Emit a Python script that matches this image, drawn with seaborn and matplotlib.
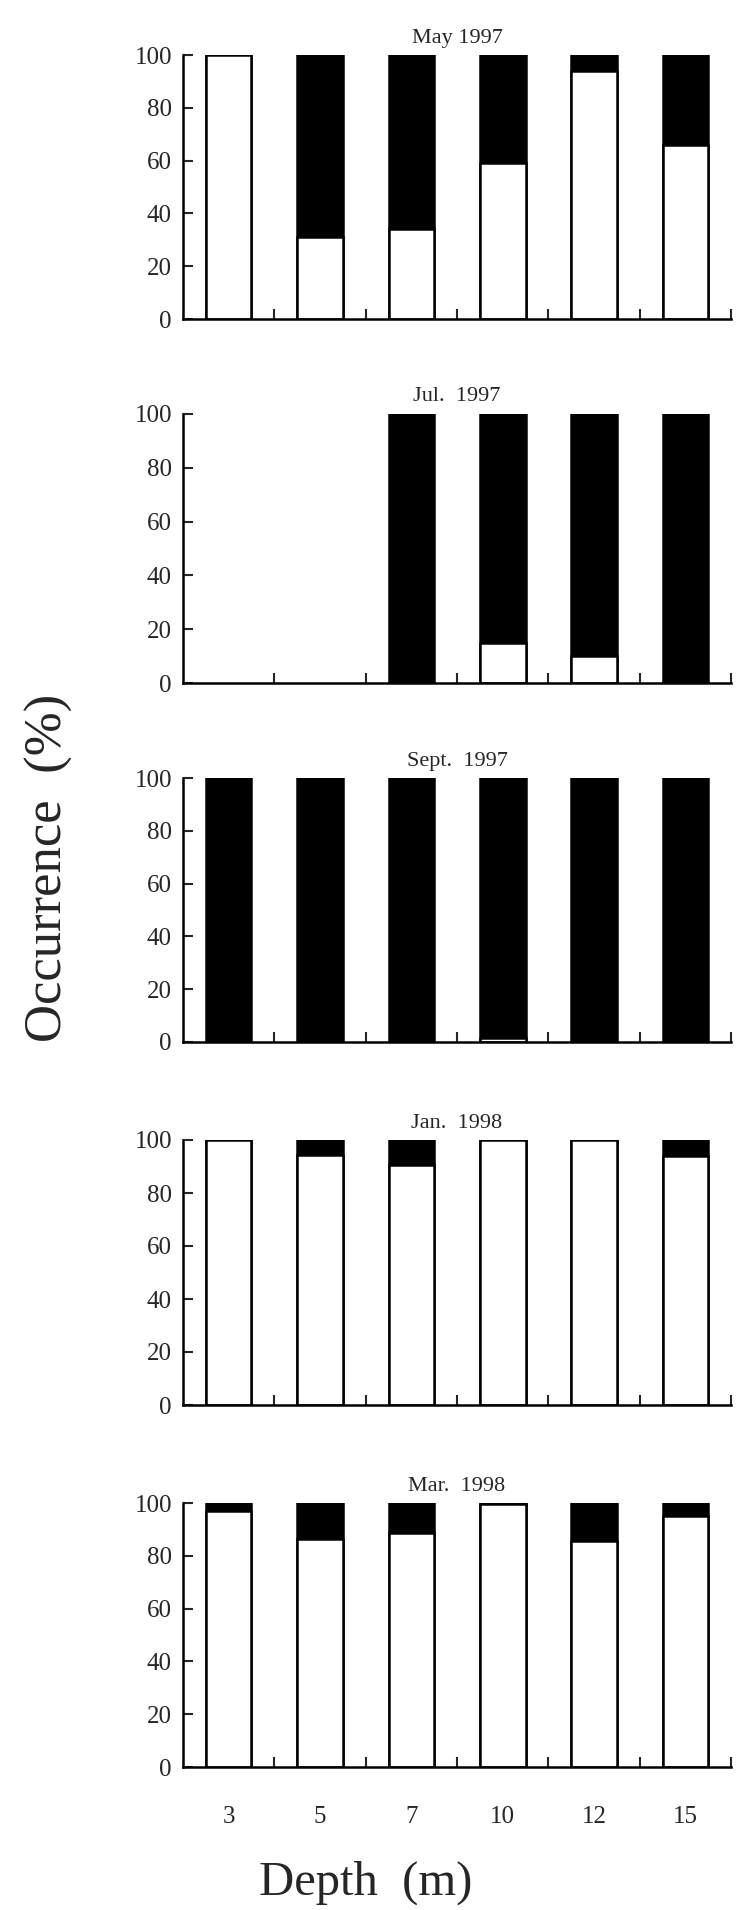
import pandas as pd
import seaborn as sns
import matplotlib.pyplot as plt
from matplotlib.ticker import FixedLocator

depths = ['3', '5', '7', '10', '12', '15']
months = ['May 1997', 'Jul.  1997', 'Sept.  1997', 'Jan.  1998', 'Mar.  1998']

# total occurrence per depth (0 = nothing found)
may97_total = [100, 100, 100, 100, 100, 100]
jul97_total = [0, 0, 100, 100, 100, 100]
sep97_total = [100, 100, 100, 100, 100, 100]
jan98_total = [100, 100, 100, 100, 100, 100]
mar98_total = [100, 100, 100, 100, 100, 100]

# white (lower) part of each bar
may97_white = [100, 31, 34, 59, 94, 66]
jul97_white = [0, 0, 0, 15, 10, 0]
sep97_white = [0, 0, 0, 1.5, 0, 0]
jan98_white = [100, 94.5, 90.5, 100, 100, 94]
mar98_white = [97, 86.5, 88.5, 99.5, 85.5, 95]

totals = [may97_total, jul97_total, sep97_total, jan98_total, mar98_total]
whites = [may97_white, jul97_white, sep97_white, jan98_white, mar98_white]


def main() -> None:
    sns.set_theme(style='ticks')
    plt.rcParams['font.family'] = ['Liberation Serif', 'DejaVu Serif']

    W, H = 741, 1910
    fig = plt.figure(figsize=(W / 100, H / 100), dpi=100)

    # panel top / bottom in pixels
    panels = [(55, 319), (414, 683), (778, 1042), (1140, 1405), (1503, 1767)]
    left, right = 183, 731

    for i, (top, bot) in enumerate(panels):
        ax = fig.add_axes([left / W, 1 - bot / H, (right - left) / W, (bot - top) / H])
        df = pd.DataFrame({'depth': depths, 'total': totals[i], 'white': whites[i]})
        sns.barplot(data=df, x='depth', y='total', order=depths, color='black',
                    width=0.5, edgecolor='black', linewidth=1.8, ax=ax)
        sns.barplot(data=df, x='depth', y='white', order=depths, color='white',
                    width=0.5, edgecolor='black', linewidth=1.8, ax=ax)
        # no samples at 3 m and 5 m in July
        for p in ax.patches:
            if p.get_height() == 0 and i == 1 and p.get_x() < 1.5:
                p.set_visible(False)

        ax.set_xlim(-0.5, 5.5)
        ax.set_ylim(0, 100)
        ax.set_yticks([0, 20, 40, 60, 80, 100])
        ax.set_xlabel('')
        ax.set_ylabel('')
        ax.set_title(months[i], fontsize=16, pad=9)
        sns.despine(ax=ax)
        for s in ['left', 'bottom']:
            ax.spines[s].set_linewidth(1.8)
            ax.spines[s].set_color('black')

        ax.xaxis.set_minor_locator(FixedLocator([0.5, 1.5, 2.5, 3.5, 4.5, 5.5]))
        ax.tick_params(axis='x', which='major', length=0, pad=28, labelsize=18)
        ax.tick_params(axis='x', which='minor', direction='in', length=7, width=1.5)
        ax.tick_params(axis='y', direction='in', length=7, width=1.5, labelsize=18, pad=8)
        if i < 4:
            ax.set_xticklabels([])

    fig.text(49 / W, 1 - 868 / H, 'Occurrence  (%)', rotation=90, fontsize=38,
             ha='center', va='center')
    fig.text(366 / W, 1 - 1883 / H, 'Depth  (m)', fontsize=35,
             ha='center', va='center')

    fig.savefig('out.png', dpi=100)


if __name__ == "__main__":
    main()
